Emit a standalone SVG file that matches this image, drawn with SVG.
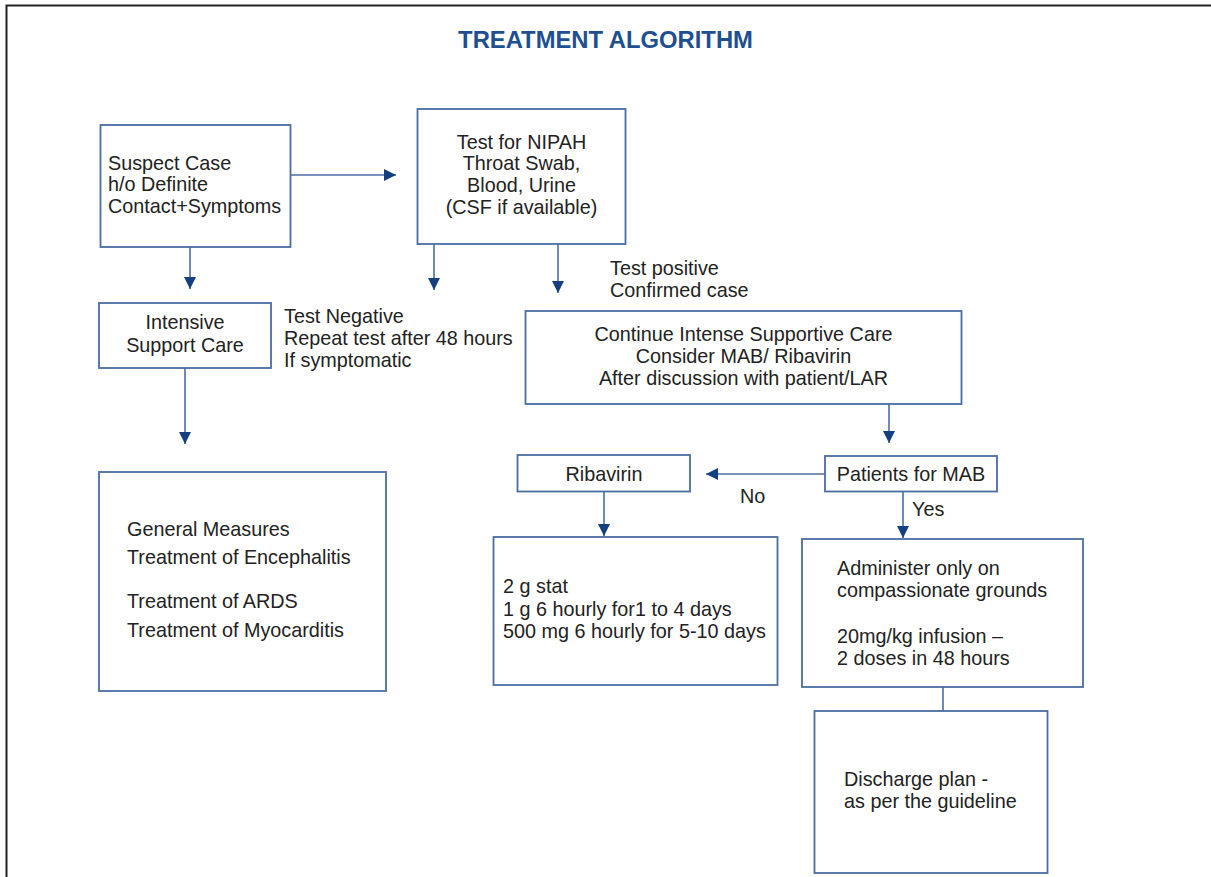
<svg xmlns="http://www.w3.org/2000/svg" width="1211" height="877" viewBox="0 0 1211 877">
<defs>
<style>
.box{fill:#fff;stroke:#4a6da3;stroke-width:1.8}
.t{font-family:"Liberation Sans",Arial,sans-serif;font-size:19.8px;fill:#222}
.c{text-anchor:middle}
.ln{stroke:#4a6da3;stroke-width:1.6;fill:none}
.title{font-family:"Liberation Sans",Arial,sans-serif;font-size:23.8px;font-weight:bold;fill:#1d4f91;text-anchor:middle}
</style>
<marker id="ah" markerUnits="userSpaceOnUse" markerWidth="12" markerHeight="12" refX="12" refY="6" orient="auto">
<path d="M0,0 L12,6 L0,12 z" fill="#15407f"/>
</marker>
</defs>
<rect width="1211" height="877" fill="#fff"/>
<path d="M6.5,877 V5.5 H1211" fill="none" stroke="#222" stroke-width="2"/>
<text class="title" x="605.5" y="47.5">TREATMENT ALGORITHM</text>

<g id="connectors">
<line class="ln" x1="290" y1="175" x2="396" y2="175" marker-end="url(#ah)"/>
<line class="ln" x1="190" y1="247" x2="190" y2="289" marker-end="url(#ah)"/>
<line class="ln" x1="434" y1="244" x2="434" y2="290" marker-end="url(#ah)"/>
<line class="ln" x1="558" y1="244" x2="558" y2="293" marker-end="url(#ah)"/>
<line class="ln" x1="185" y1="368" x2="185" y2="444" marker-end="url(#ah)"/>
<line class="ln" x1="889" y1="404" x2="889" y2="443" marker-end="url(#ah)"/>
<line class="ln" x1="825" y1="474" x2="706" y2="474" marker-end="url(#ah)"/>
<line class="ln" x1="604" y1="492" x2="604" y2="536" marker-end="url(#ah)"/>
<line class="ln" x1="903" y1="492" x2="903" y2="538" marker-end="url(#ah)"/>
<line class="ln" x1="943" y1="687" x2="943" y2="711"/>
<text class="t" x="610" y="275">Test positive</text>
<text class="t" x="610" y="297">Confirmed case</text>
<text class="t" x="284" y="323">Test Negative</text>
<text class="t" x="284" y="345">Repeat test after 48 hours</text>
<text class="t" x="284" y="367">If symptomatic</text>
<text class="t" x="740" y="503">No</text>
<text class="t" x="912" y="516">Yes</text>
</g>

<g id="suspect">
<rect class="box" x="100.5" y="125" width="190" height="122"/>
<text class="t" x="108" y="170">Suspect Case</text>
<text class="t" x="108" y="191">h/o Definite</text>
<text class="t" x="108" y="213">Contact+Symptoms</text>
</g>

<g id="test">
<rect class="box" x="417.5" y="109" width="208" height="135"/>
<text class="t c" x="521.5" y="148.5">Test for NIPAH</text>
<text class="t c" x="521.5" y="170">Throat Swab,</text>
<text class="t c" x="521.5" y="192">Blood, Urine</text>
<text class="t c" x="521.5" y="213.5">(CSF if available)</text>
</g>

<g id="intensive">
<rect class="box" x="99" y="303" width="172" height="65"/>
<text class="t c" x="185" y="329">Intensive</text>
<text class="t c" x="185" y="352">Support Care</text>
</g>

<g id="general">
<rect class="box" x="99" y="472" width="287" height="219"/>
<text class="t" x="127" y="536">General Measures</text>
<text class="t" x="127" y="564">Treatment of Encephalitis</text>
<text class="t" x="127" y="608">Treatment of ARDS</text>
<text class="t" x="127" y="637">Treatment of Myocarditis</text>
</g>

<g id="continue">
<rect class="box" x="525.5" y="311" width="436" height="93"/>
<text class="t c" x="743.5" y="341">Continue Intense Supportive Care</text>
<text class="t c" x="743.5" y="363">Consider MAB/ Ribavirin</text>
<text class="t c" x="743.5" y="385">After discussion with patient/LAR</text>
</g>

<g id="ribavirin">
<rect class="box" x="517.5" y="455" width="172.5" height="36.5"/>
<text class="t c" x="604" y="481">Ribavirin</text>
</g>

<g id="mab">
<rect class="box" x="825" y="456" width="172" height="35.5"/>
<text class="t c" x="911" y="481">Patients for MAB</text>
</g>

<g id="dose">
<rect class="box" x="493.5" y="537" width="284" height="148"/>
<text class="t" x="503" y="593">2 g stat</text>
<text class="t" x="503" y="616">1 g 6 hourly for1 to 4 days</text>
<text class="t" x="503" y="638">500 mg 6 hourly for 5-10 days</text>
</g>

<g id="administer">
<rect class="box" x="802" y="539" width="281" height="148"/>
<text class="t" x="837" y="575">Administer only on</text>
<text class="t" x="837" y="597">compassionate grounds</text>
<text class="t" x="837" y="643">20mg/kg infusion –</text>
<text class="t" x="837" y="665">2 doses in 48 hours</text>
</g>

<g id="discharge">
<rect class="box" x="814.5" y="711" width="233" height="162"/>
<text class="t" x="844" y="786">Discharge plan -</text>
<text class="t" x="844" y="808">as per the guideline</text>
</g>
</svg>
